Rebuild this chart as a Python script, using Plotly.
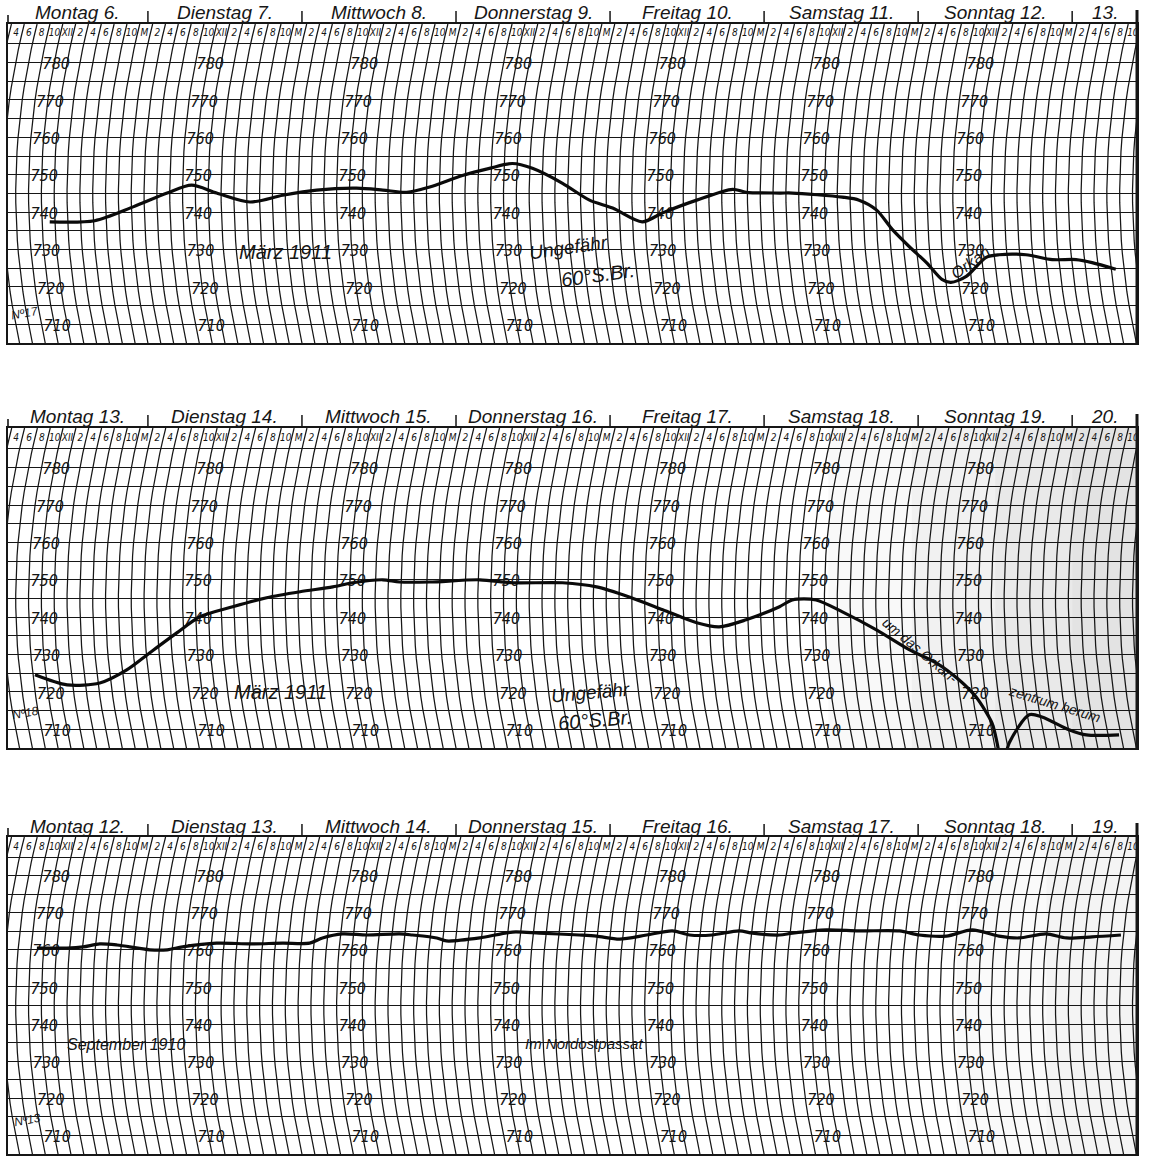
import numpy as np
import plotly.graph_objects as go

# ------------------------------------------------------------------ data
# time in hours since midnight at the start of the first (Monday) column
p1_hours = [8.7, 15.7, 21.7, 27.0, 30.8, 34.7, 39.9, 45.0, 50.3, 56.5,
            60.6, 64.3, 67.9, 73.0, 77.2, 80.8, 83.9, 88.6, 92.8, 96.4,
            101.0, 104.2, 109.5, 115.1, 117.2, 122.4, 124.4, 132.2, 134.8, 137.5,
            140.0, 142.6, 145.3, 147.7, 149.1, 151.5, 154.6, 156.6, 160.8, 164.9,
            168.6, 171.1, 174.8]
p1_mmhg = [737.4, 737.7, 741.4, 745.1, 747.2, 745.1, 742.7, 744.5, 745.9, 746.4,
           745.9, 745.3, 746.7, 749.8, 751.7, 753.0, 751.7, 747.7, 743.2, 741.1,
           737.4, 739.8, 743.2, 746.1, 745.3, 745.1, 745.1, 744.0, 743.2, 740.6,
           735.3, 730.8, 726.5, 722.0, 721.2, 722.8, 727.9, 728.6, 728.6, 727.3,
           727.3, 726.5, 724.7]

p2_hours = [6.4, 11.4, 16.5, 20.7, 24.3, 28.5, 32.1, 37.2, 42.5, 47.7,
            52.8, 55.9, 60.6, 63.2, 67.9, 75.7, 80.8, 88.6, 93.9, 99.0,
            104.2, 109.5, 113.0, 117.2, 122.4, 124.4, 128.1, 132.2, 137.5, 142.6,
            146.8, 150.4, 153.0, 155.5, 156.3, 157.1, 158.2, 161.3, 163.3, 167.5,
            170.2, 175.3]
p2_mmhg = [724.6, 721.9, 722.4, 725.9, 730.5, 735.8, 740.1, 742.8, 745.2, 746.8,
           748.1, 749.2, 750.0, 749.4, 749.4, 750.0, 749.2, 749.2, 748.1, 745.4,
           742.0, 738.5, 737.4, 739.3, 742.8, 744.6, 744.6, 741.4, 736.6, 731.3,
           727.8, 723.2, 718.7, 711.7, 706.4, 700.0, 706.4, 713.9, 713.3, 709.9,
           708.5, 708.5]

p3_hours = [6.7, 11.4, 13.9, 16.5, 19.2, 24.3, 27.0, 29.4, 34.7, 39.9,
            45.0, 49.2, 51.2, 54.3, 58.1, 63.2, 65.2, 69.0, 70.5, 75.7,
            80.8, 85.0, 91.2, 93.9, 97.5, 101.7, 105.7, 108.4, 111.9, 116.1,
            118.2, 122.4, 124.4, 129.7, 134.8, 141.1, 144.2, 148.4, 152.4, 156.6,
            159.7, 163.9, 167.1, 171.1, 175.6]
p3_mmhg = [760.5, 760.5, 760.8, 761.6, 761.3, 760.0, 760.0, 760.8, 761.8, 761.6,
           761.8, 761.8, 763.2, 764.3, 764.0, 764.3, 764.0, 763.2, 762.4, 763.2,
           764.8, 764.5, 764.0, 763.7, 762.9, 764.0, 765.1, 764.0, 764.0, 765.1,
           764.5, 764.0, 764.5, 765.4, 765.1, 765.1, 764.0, 763.7, 765.4, 763.7,
           763.2, 764.3, 763.2, 763.5, 764.0]

p1_days = ["Montag 6.", "Dienstag 7.", "Mittwoch 8.", "Donnerstag 9.",
           "Freitag 10.", "Samstag 11.", "Sonntag 12.", "13."]
p2_days = ["Montag 13.", "Dienstag 14.", "Mittwoch 15.", "Donnerstag 16.",
           "Freitag 17.", "Samstag 18.", "Sonntag 19.", "20."]
p3_days = ["Montag 12.", "Dienstag 13.", "Mittwoch 14.", "Donnerstag 15.",
           "Freitag 16.", "Samstag 17.", "Sonntag 18.", "19."]

pressure_labels = [780, 770, 760, 750, 740, 730, 720, 710]
hour_labels = ["M", "2", "4", "6", "8", "10", "XII", "2", "4", "6", "8", "10"]

# ------------------------------------------------------------------ layout constants
W, H = 1162, 1160
X_RANGE = [2.2, 178.1]
X_DOM = [8 / W, 1137 / W]
ARC = 2.6          # bow of the barograph time arcs (hours)
INK = "#161616"
NUM_FONT = "Liberation Sans Narrow, DejaVu Sans Condensed, Liberation Sans"
TXT_FONT = "Liberation Sans, Arial"

panels = [
    dict(top_px=24, bot_px=343, ytop=790.3, days=p1_days, hours=p1_hours, mmhg=p1_mmhg,
         name_px=13, shade=[]),
    dict(top_px=428, bot_px=748, ytop=790.6, days=p2_days, hours=p2_hours, mmhg=p2_mmhg,
         name_px=416, shade=[(130, 0.025), (143, 0.03), (156, 0.03), (168, 0.025)]),
    dict(top_px=837, bot_px=1154, ytop=790.4, days=p3_days, hours=p3_hours, mmhg=p3_mmhg,
         name_px=826, shade=[(150, 0.02), (164, 0.025)]),
]


def arc_offset(y):
    return ARC * (((np.asarray(y, dtype=float) - 745.0) / 40.0) ** 2 - 1.0)


fig = go.Figure()
shapes = []
annotations = []

for i, p in enumerate(panels):
    k = "" if i == 0 else str(i + 1)
    xa, ya = "x" + k, "y" + k
    dom = [1 - p["bot_px"] / H, 1 - p["top_px"] / H]

    fig.update_layout(**{
        "xaxis" + k: dict(domain=X_DOM, range=X_RANGE, anchor=ya, showgrid=False,
                          zeroline=False, showticklabels=False, ticks="",
                          showline=True, mirror=True, linecolor=INK, linewidth=1.6),
        "yaxis" + k: dict(domain=dom, range=[705, p["ytop"]], anchor=xa,
                          tickmode="array", tickvals=list(range(705, 786, 5)),
                          showticklabels=False, ticks="", showgrid=True,
                          gridcolor=INK, gridwidth=1.3, zeroline=False,
                          showline=True, mirror=True, linecolor=INK, linewidth=1.6),
    })

    # time arcs every 2 hours
    ys = np.linspace(705, p["ytop"], 26)
    ax_, ay_ = [], []
    for h in range(0, 186, 2):
        ax_ += list(h + arc_offset(ys)) + [None]
        ay_ += list(ys) + [None]
    fig.add_trace(go.Scatter(x=ax_, y=ay_, mode="lines", xaxis=xa, yaxis=ya,
                             line=dict(color=INK, width=1.25), hoverinfo="skip",
                             showlegend=False))

    # hour numbers along the top row
    y_tick = (785 + p["ytop"]) / 2
    tx, tt = [], []
    for h in range(2, 182, 2):
        x = float(h - 0.9 + arc_offset(y_tick))
        if X_RANGE[0] + 0.3 < x < X_RANGE[1] - 0.2:
            tx.append(x)
            tt.append("<i>" + hour_labels[(h % 24) // 2] + "</i>")
    fig.add_trace(go.Scatter(x=tx, y=[y_tick] * len(tx), text=tt, mode="text",
                             xaxis=xa, yaxis=ya, cliponaxis=False,
                             textfont=dict(size=10, color=INK, family=NUM_FONT),
                             hoverinfo="skip", showlegend=False))

    # pressure numbers along each noon arc
    lx, ly, lt = [], [], []
    for d in range(7):
        noon = 12 + 24 * d
        for v in pressure_labels:
            yv = v - 0.7
            lx.append(float(noon - 1.6 + arc_offset(yv)))
            ly.append(yv)
            lt.append("<i>%d</i>" % v)
    fig.add_trace(go.Scatter(x=lx, y=ly, text=lt, mode="text", xaxis=xa, yaxis=ya,
                             cliponaxis=False,
                             textfont=dict(size=16, color=INK, family=NUM_FONT),
                             hoverinfo="skip", showlegend=False))

    # barograph trace
    fig.add_trace(go.Scatter(x=p["hours"], y=p["mmhg"], mode="lines", xaxis=xa,
                             yaxis=ya, line=dict(color="#0a0a0a", width=3.2,
                                                 shape="spline", smoothing=0.8),
                             hoverinfo="skip", showlegend=False))

    # day headers
    top_paper = 1 - p["top_px"] / H
    for d, name in enumerate(p["days"]):
        a = max(24 * d, X_RANGE[0])
        b = min(24 * d + 24, X_RANGE[1])
        annotations.append(dict(x=(a + b) / 2, xref=xa, y=1 - p["name_px"] / H,
                                yref="paper", text="<i>%s</i>" % name,
                                showarrow=False, xanchor="center", yanchor="middle",
                                font=dict(size=19, color=INK, family=TXT_FONT)))
    for d in range(1, 8):
        shapes.append(dict(type="line", xref=xa, yref="paper", x0=24 * d, x1=24 * d,
                           y0=top_paper, y1=top_paper + 13 / H,
                           line=dict(color=INK, width=1.5)))
    # left border extension and heavy right border
    shapes.append(dict(type="line", xref="paper", yref="paper", x0=X_DOM[0], x1=X_DOM[0],
                       y0=top_paper, y1=top_paper + 9 / H, line=dict(color=INK, width=1.6)))
    shapes.append(dict(type="line", xref="paper", yref="paper", x0=X_DOM[1], x1=X_DOM[1],
                       y0=1 - p["bot_px"] / H, y1=top_paper + 14 / H,
                       line=dict(color=INK, width=3)))
    # greyish tone of the scanned paper
    for x0, op in p["shade"]:
        shapes.append(dict(type="rect", xref=xa, yref=ya, x0=x0, x1=X_RANGE[1],
                           y0=705, y1=p["ytop"], layer="below", line=dict(width=0),
                           fillcolor="rgba(0,0,0,%.3f)" % op))


def note(text, x, y, panel, size=19, angle=0):
    k = "" if panel == 0 else str(panel + 1)
    annotations.append(dict(x=x, y=y, xref="x" + k, yref="y" + k,
                            text="<i>%s</i>" % text, showarrow=False,
                            textangle=angle, xanchor="center", yanchor="middle",
                            font=dict(size=size, color=INK, family=TXT_FONT)))


# panel 1
note("März 1911", 45.4, 729.4, 0, 20)
note("Ungefähr", 89.5, 730.6, 0, 19, -8)
note("60°S.Br.", 94.1, 723.2, 0, 20, -8)
note("Orkan", 152.2, 726.4, 0, 16, -36)
note("Nº17", 4.9, 713.1, 0, 12, -10)
# panel 2
note("März 1911", 44.6, 720.0, 1, 20)
note("Ungefähr", 92.9, 719.8, 1, 19, -5)
note("60°S.Br.", 93.7, 712.5, 1, 20, -5)
note("um das Orkan-", 144.3, 731.3, 1, 14, 40)
note("zentrum herum", 165.3, 716.8, 1, 14, 17)
note("Nº18", 4.9, 714.4, 1, 12, -10)
# panel 3
note("September 1910", 20.6, 734.6, 2, 16)
note("Im Nordostpassat", 92.0, 734.8, 2, 15)
note("Nº13", 5.2, 714.2, 2, 12, -10)

fig.update_layout(width=W, height=H, autosize=False,
                  margin=dict(l=0, r=0, t=0, b=0, pad=0),
                  paper_bgcolor="white", plot_bgcolor="white",
                  shapes=shapes, annotations=annotations, showlegend=False)

fig.write_html("out.html")
